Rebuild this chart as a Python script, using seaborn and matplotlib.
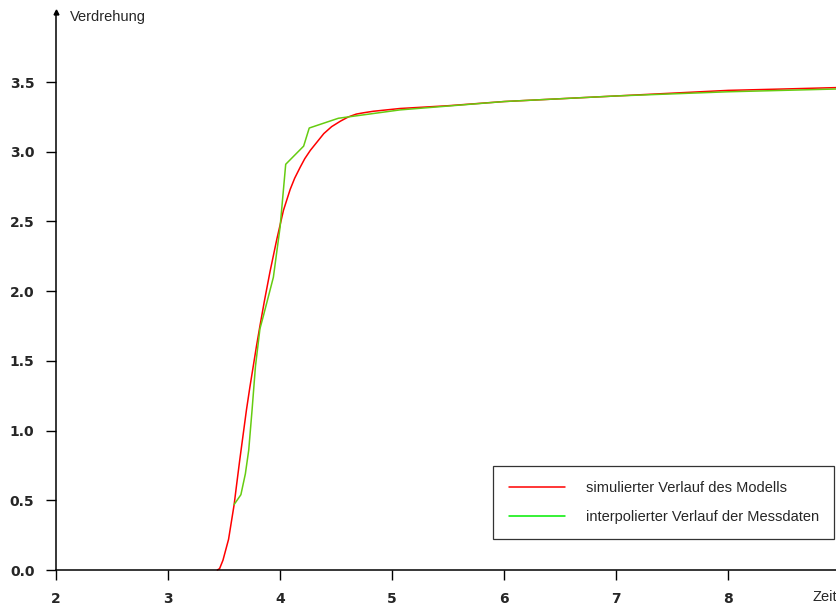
import matplotlib
matplotlib.use("Agg")
import matplotlib.pyplot as plt
from matplotlib.lines import Line2D
import seaborn as sns
import pandas as pd

# --- data ---
sim_x = [3.44, 3.46, 3.49, 3.51, 3.54, 3.56, 3.59, 3.61, 3.64, 3.67, 3.70, 3.73,
         3.76, 3.79, 3.82, 3.86, 3.91, 3.97, 4.03, 4.09, 4.13, 4.18, 4.22, 4.27,
         4.33, 4.39, 4.46, 4.54, 4.61, 4.68, 4.75, 4.83, 4.95, 5.07, 5.50, 6.00,
         6.50, 7.00, 7.50, 8.00, 8.50, 8.97]
sim_y = [0.00, 0.01, 0.07, 0.13, 0.22, 0.32, 0.47, 0.60, 0.79, 0.97, 1.15, 1.31,
         1.46, 1.61, 1.75, 1.93, 2.14, 2.37, 2.58, 2.73, 2.81, 2.89, 2.95, 3.01,
         3.07, 3.13, 3.18, 3.22, 3.25, 3.27, 3.28, 3.29, 3.30, 3.31, 3.33, 3.36,
         3.38, 3.40, 3.42, 3.44, 3.45, 3.46]

mess_x = [3.59, 3.65, 3.69, 3.72, 3.75, 3.78, 3.82, 3.85, 3.94, 4.00, 4.05,
          4.21, 4.26, 4.52, 5.07, 6.00, 7.00, 8.00, 8.97]
mess_y = [0.47, 0.54, 0.69, 0.86, 1.15, 1.46, 1.73, 1.82, 2.10, 2.46, 2.91,
          3.04, 3.17, 3.24, 3.30, 3.36, 3.40, 3.43, 3.45]

x_ticks = [2, 3, 4, 5, 6, 7, 8]
y_ticks = [0.0, 0.5, 1.0, 1.5, 2.0, 2.5, 3.0, 3.5]

label_sim = "simulierter Verlauf des Modells"
label_mess = "interpolierter Verlauf der Messdaten"
x_title = "Zeit"
y_title = "Verdrehung"

sns.set_style("white")
plt.rcParams['font.family'] = ['DejaVu Sans']

fig = plt.figure(figsize=(8.37, 6.08), dpi=100)
ax = fig.add_axes([56 / 837, 38 / 608, 781 / 837, 557.7 / 608])

df_sim = pd.DataFrame({"x": sim_x, "y": sim_y})
df_mess = pd.DataFrame({"x": mess_x, "y": mess_y})

sns.lineplot(data=df_sim, x="x", y="y", ax=ax, color="#ff0000", linewidth=1.1,
             sort=False, estimator=None, clip_on=False)
sns.lineplot(data=df_mess, x="x", y="y", ax=ax, color="#66cc11", linewidth=1.1,
             sort=False, estimator=None, clip_on=False)

ax.set_xlim(2, 8.97)
ax.set_ylim(0, 4.0)

for s in ["top", "right"]:
    ax.spines[s].set_visible(False)
for s in ["left", "bottom"]:
    ax.spines[s].set_color("black")
    ax.spines[s].set_linewidth(1.1)

ax.set_xticks(x_ticks)
ax.set_xticklabels([str(v) for v in x_ticks], fontweight="bold", fontsize=10)
ax.set_yticks(y_ticks)
ax.set_yticklabels([f"{v:.1f}" for v in y_ticks], fontweight="bold", fontsize=10)
ax.tick_params(axis="x", bottom=True, direction="out", length=7.5, width=1.0,
               color="black", pad=8.0)
ax.tick_params(axis="y", left=True, direction="out", length=7.5, width=1.0,
               color="black", pad=8.0)
ax.set_xlabel("")
ax.set_ylabel("")

# arrow head at top of y axis
ax.plot([0], [1.0], marker="^", markersize=3.5, color="black",
        transform=ax.transAxes, clip_on=False)

# axis titles
fig.text(70 / 837, 1 - 17 / 608, y_title, fontsize=10.5, family="Liberation Sans",
         ha="left", va="center")
fig.text(837 / 837, 1 - 597 / 608, x_title, fontsize=10.5, family="Liberation Sans",
         ha="right", va="center")

handles = [Line2D([0], [0], color="#ff0000", linewidth=1.1),
           Line2D([0], [0], color="#00ee00", linewidth=1.1)]
leg = ax.legend(handles, [label_sim, label_mess], loc="lower right",
                bbox_to_anchor=(0.9965, 0.0556), borderaxespad=0,
                prop={"family": "Liberation Sans", "size": 10.5},
                handlelength=3.9, handletextpad=1.4, labelspacing=1.0,
                borderpad=1.05, fancybox=False, framealpha=1, edgecolor="#333333")
leg.get_frame().set_linewidth(0.9)

fig.savefig("out.png", dpi=100)
